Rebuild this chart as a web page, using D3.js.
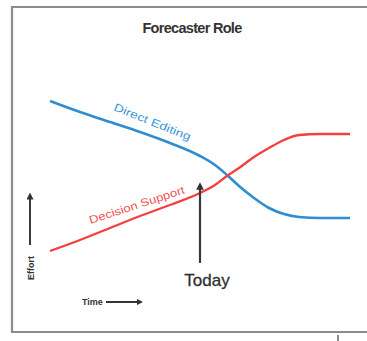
<!DOCTYPE html>
<html><head><meta charset="utf-8">
<script src="https://cdn.jsdelivr.net/npm/d3@7"></script>
<style>html,body{margin:0;padding:0;background:#fff;}svg{display:block;}</style>
</head><body>
<svg id="c" width="367" height="341"></svg>
<script>
const title = "Forecaster Role";
const time = [0,10,20,30,40,50,55,59,63,68,73,78,83,90,100];
const directEditing = [89.5,84,79,74,68.5,62,57.5,52.5,47,41,36,33,31.5,31,31];
const decisionSupport = [14.5,20,26,32,37.5,43.5,47.5,52,56,61.5,66,70,72.5,73,73];
const seriesNames = ["Direct Editing","Decision Support"];
const todayTime = 50;

const svg = d3.select("#c");
const x = d3.scaleLinear().domain([0,100]).range([50,350]);
const y = d3.scaleLinear().domain([0,100]).range([280,80]);

// frame
svg.append("path").attr("d","M367,7H12V332H367").attr("fill","none")
  .attr("stroke","#8c8c8c").attr("stroke-width",2.2);
svg.append("line").attr("x1",338).attr("x2",338).attr("y1",335).attr("y2",341)
  .attr("stroke","#666").attr("stroke-width",1.5);

svg.append("text").attr("x",192).attr("y",33).attr("text-anchor","middle")
  .attr("font-family","Liberation Sans, Arial, sans-serif").attr("font-weight","bold")
  .attr("font-size",14.5).attr("fill","#333").attr("letter-spacing",-0.7).text(title);

const line = d3.line().x((d,i)=>x(time[i])).y(d=>y(d)).curve(d3.curveMonotoneX);
svg.append("path").attr("d",line(directEditing)).attr("fill","none")
  .attr("stroke","#2f8dd2").attr("stroke-width",2.6);
svg.append("path").attr("d",line(decisionSupport)).attr("fill","none")
  .attr("stroke","#f2403f").attr("stroke-width",2.3);

// series labels
svg.append("text").attr("transform",`translate(${x(21)},${y(85)}) rotate(22)`)
  .attr("font-family","Liberation Sans, Arial, sans-serif").attr("font-size",11)
  .attr("fill","#3a95d8").attr("textLength",82).attr("lengthAdjust","spacingAndGlyphs")
  .text(seriesNames[0]);
svg.append("text").attr("transform",`translate(${x(13.5)},${y(28)}) rotate(-18)`)
  .attr("font-family","Liberation Sans, Arial, sans-serif").attr("font-size",11)
  .attr("fill","#f05050").attr("textLength",100).attr("lengthAdjust","spacingAndGlyphs")
  .text(seriesNames[1]);

// arrows
const defs = svg.append("defs");
defs.append("marker").attr("id","ah").attr("viewBox","0 0 10 10").attr("refX",5).attr("refY",5)
  .attr("markerWidth",3.5).attr("markerHeight",3.5).attr("orient","auto")
  .append("path").attr("d","M0,0L10,5L0,10z").attr("fill","#333");

svg.append("line").attr("x1",x(todayTime)).attr("x2",x(todayTime)).attr("y1",263).attr("y2",186)
  .attr("stroke","#3a3a3a").attr("stroke-width",2.2).attr("marker-end","url(#ah)");
svg.append("text").attr("x",x(todayTime)+7).attr("y",286).attr("text-anchor","middle")
  .attr("font-family","Liberation Sans, Arial, sans-serif").attr("font-size",17)
  .attr("fill","#2f2f2f").attr("stroke","#2f2f2f").attr("stroke-width",0.3).text("Today");

svg.append("line").attr("x1",30).attr("x2",30).attr("y1",245).attr("y2",196)
  .attr("stroke","#3a3a3a").attr("stroke-width",2).attr("marker-end","url(#ah)");
svg.append("text").attr("transform","translate(34,268) rotate(-90)").attr("text-anchor","middle")
  .attr("font-family","Liberation Sans, Arial, sans-serif").attr("font-size",9).attr("font-weight","bold")
  .attr("fill","#333").text("Effort");

svg.append("text").attr("x",82).attr("y",305)
  .attr("font-family","Liberation Sans, Arial, sans-serif").attr("font-size",9).attr("font-weight","bold")
  .attr("fill","#333").text("Time");
svg.append("line").attr("x1",106).attr("x2",140).attr("y1",302).attr("y2",302)
  .attr("stroke","#333").attr("stroke-width",1.8).attr("marker-end","url(#ah)");
</script>
</body></html>
